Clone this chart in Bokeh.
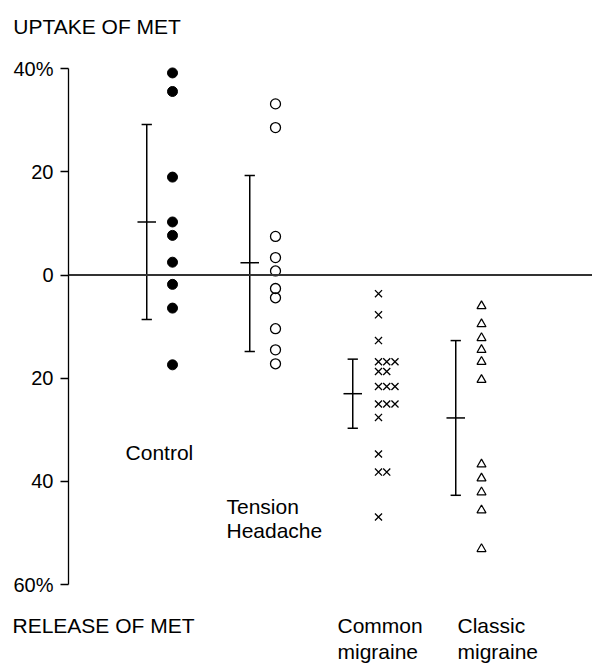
from bokeh.plotting import figure
from bokeh.models import Range1d, FixedTicker, Span, Label, ColumnDataSource, LinearAxis
from bokeh.embed import file_html
from bokeh.resources import INLINE

# ---- data (percent; positive = uptake, negative = release) ----
groups = ["Control", "Tension Headache", "Common migraine", "Classic migraine"]
control = [39.2, 35.6, 19.0, 10.3, 7.7, 2.5, -1.8, -6.4, -17.4]
tension = [33.2, 28.6, 7.5, 3.4, 0.8, -2.6, -4.4, -10.4, -14.5, -17.2]
common = [-3.6, -7.7, -12.7, -16.8, -16.8, -16.8, -18.7, -18.7,
          -21.6, -21.6, -21.6, -25.0, -25.0, -25.0, -27.6, -34.7,
          -38.2, -38.2, -46.9]
classic = [-6.0, -9.5, -12.2, -14.5, -16.8, -20.3, -36.7, -39.4, -42.1, -45.6, -53.1]
means = [10.3, 2.4, -23.0, -27.7]
upper = [29.2, 19.3, -16.3, -12.7]
lower = [-8.6, -14.8, -29.7, -42.7]
y_ticks = [40, 20, 0, -20, -40, -60]
y_tick_labels = ["40%", "20", "0", "20", "40", "60%"]

FONT = "Liberation Sans"
TICK_FS = "20px"
FS = "21px"

# horizontal layout: group i centred at page x = X0 + STEP * i
X0, STEP = 172.0, 103.0
W = 592
AX_LEFT = 68

p = figure(frame_width=W - AX_LEFT, frame_height=550, min_border_left=AX_LEFT,
           min_border_right=0, min_border_top=50, min_border_bottom=64,
           x_range=Range1d((AX_LEFT - X0) / STEP, (W - X0) / STEP),
           y_range=Range1d(-63.1, 43.55), x_axis_location=None,
           output_backend="svg", toolbar_location=None, tools="")
p.grid.visible = False
p.outline_line_color = None

ax = p.yaxis[0]
ax.ticker = FixedTicker(ticks=y_ticks)
ax.major_label_overrides = {t: l for t, l in zip(y_ticks, y_tick_labels)}
ax.bounds = (-60, 40)
ax.minor_tick_line_color = None
ax.major_tick_in = 0
ax.major_tick_out = 8
ax.major_tick_line_width = 1.3
ax.axis_line_width = 1.3
ax.axis_line_color = "black"
ax.major_tick_line_color = "black"
ax.major_label_text_font = FONT
ax.major_label_text_font_size = TICK_FS
ax.major_label_text_color = "black"
ax.major_label_standoff = 7


def text_axis(pos, labels, standoff):
    """An axis with no line or ticks used only to carry caption texts."""
    ticks = [x for x, _ in labels]
    a = LinearAxis(ticker=FixedTicker(ticks=ticks),
                   major_label_overrides={x: t for x, t in labels},
                   axis_line_color=None, major_tick_line_color=None,
                   minor_tick_line_color=None, major_tick_in=0, major_tick_out=0,
                   major_label_standoff=standoff, major_label_text_font=FONT,
                   major_label_text_font_size=FS, major_label_text_color="black")
    p.add_layout(a, pos)


def cx_of(left_px, width_em):
    # data x of the centre of a caption that starts at page x left_px
    return (left_px + width_em * 21 / 2 - X0) / STEP


text_axis("above", [(cx_of(12, 8.057), "UPTAKE OF MET")], 13)
text_axis("below", [(cx_of(12, 8.669), "RELEASE OF MET"),
                    (cx_of(337, 4.056), "Common"),
                    (cx_of(457, 3.222), "Classic")], 13)
text_axis("below", [(cx_of(337, 3.834), "migraine"),
                    (cx_of(457, 3.834) + 1e-6, "migraine")], 0)

p.add_layout(Span(location=0, dimension="width", line_color="#333333", line_width=2))

p.scatter([0] * len(control), control, size=10, marker="circle",
          fill_color="black", line_color="black")
p.scatter([1] * len(tension), tension, size=10, marker="circle",
          fill_color=None, line_color="black", line_width=1.3)

cx, seen = [], {}
for v in common:
    k = seen.get(v, 0)
    cx.append(2 + 0.08 * k)
    seen[v] = k + 1
p.scatter(cx, common, size=10, marker="x", line_color="black", line_width=1.3)

p.scatter([3] * len(classic), classic, size=9, marker="triangle",
          fill_color=None, line_color="black", line_width=1.2)

bx = [i - 0.25 for i in range(len(groups))]
src = ColumnDataSource(dict(x=bx, m=means, u=upper, l=lower,
                            cl=[x - 0.05 for x in bx], cr=[x + 0.05 for x in bx],
                            ml=[x - 0.09 for x in bx], mr=[x + 0.09 for x in bx]))
for a, b, c, d in [("x", "l", "x", "u"), ("cl", "u", "cr", "u"),
                   ("cl", "l", "cr", "l"), ("ml", "m", "mr", "m")]:
    p.segment(a, b, c, d, source=src, line_color="black", line_width=1.5)


def lab(x, y, t):
    p.add_layout(Label(x=x, y=y, text=t, text_font=FONT, text_font_size=FS,
                       text_color="black", text_baseline="alphabetic", text_align="left"))


lab(-0.456, -34.4, "Control")
lab(0.524, -44.8, "Tension")
lab(0.524, -49.5, "Headache")

open("out.html", "w").write(file_html(p, INLINE))
